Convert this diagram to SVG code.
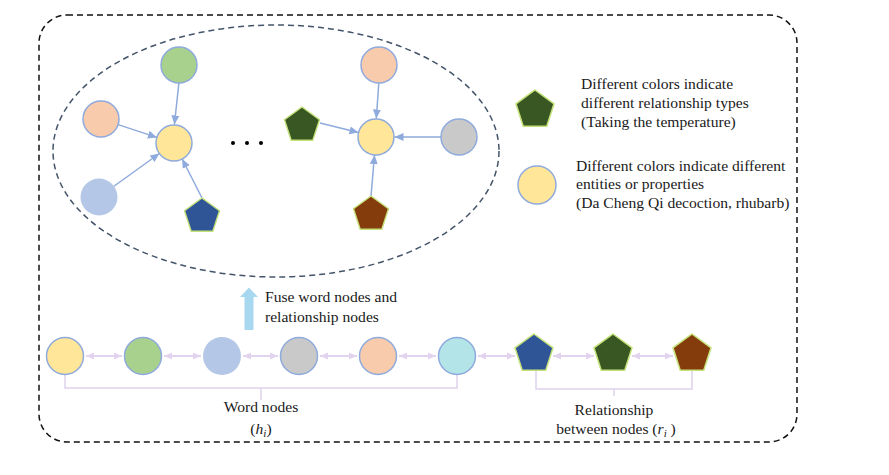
<svg xmlns="http://www.w3.org/2000/svg" xmlns:xlink="http://www.w3.org/1999/xlink" width="889" height="475" viewBox="0 0 889 475">
<style>
  text { font-family: "Liberation Serif", "Times New Roman", serif; font-size: 15.6px; fill: #1a1a1a; }
  .mid { text-anchor: middle; }
  .node { stroke: #8faadc; stroke-width: 1.5; }
  .pent { stroke: #c5e17a; stroke-width: 1.5; }
  .edge { stroke: #8faadc; stroke-width: 1.5; fill: none; marker-end: url(#ah); }
  .bi { stroke: #e2d4ef; stroke-width: 2; fill: none; marker-start: url(#bs); marker-end: url(#be); }
  .brk { stroke: #e0d2ed; stroke-width: 1.5; fill: none; }
</style>
<defs>
  <polygon id="pg" points="0,-20 19.02,-6.18 11.76,16.18 -11.76,16.18 -19.02,-6.18"/>
  <marker id="ah" markerUnits="userSpaceOnUse" markerWidth="10" markerHeight="10" viewBox="0 0 10 10" refX="9" refY="5" orient="auto">
    <path d="M0,1 L9,5 L0,9 Z" fill="#8faadc"/>
  </marker>
  <marker id="be" markerUnits="userSpaceOnUse" markerWidth="9" markerHeight="9" viewBox="0 0 10 10" refX="9" refY="5" orient="auto">
    <path d="M0,1 L9,5 L0,9 Z" fill="#e2d4ef"/>
  </marker>
  <marker id="bs" markerUnits="userSpaceOnUse" markerWidth="9" markerHeight="9" viewBox="0 0 10 10" refX="1" refY="5" orient="auto">
    <path d="M10,1 L1,5 L10,9 Z" fill="#e2d4ef"/>
  </marker>
</defs>

<rect x="39" y="15" width="758" height="427" rx="28" ry="28" fill="none" stroke="#111" stroke-width="1.5" stroke-dasharray="6,4"/>
<ellipse cx="276" cy="151" rx="223" ry="126" fill="none" stroke="#44546a" stroke-width="1.5" stroke-dasharray="6,4"/>

<g id="connectors">
  <line class="edge" x1="178.9" y1="83" x2="174.4" y2="124.5"/>
  <line class="edge" x1="118.1" y1="124.6" x2="156.9" y2="137.4"/>
  <line class="edge" x1="113.6" y1="186.5" x2="159.4" y2="153.5"/>
  <line class="edge" x1="202" y1="198" x2="182.2" y2="159"/>
  <line class="edge" x1="378.8" y1="83" x2="376.3" y2="118.5"/>
  <line class="edge" x1="441" y1="137" x2="394.5" y2="137"/>
  <line class="edge" x1="320" y1="123" x2="358.5" y2="132.6"/>
  <line class="edge" x1="371" y1="196" x2="374.5" y2="155"/>

  <line class="bi" x1="86" y1="356" x2="122" y2="356"/>
  <line class="bi" x1="164" y1="356" x2="201" y2="356"/>
  <line class="bi" x1="243" y1="356" x2="278" y2="356"/>
  <line class="bi" x1="320" y1="356" x2="357" y2="356"/>
  <line class="bi" x1="399" y1="356" x2="436" y2="356"/>
  <line class="bi" x1="478" y1="356" x2="515" y2="356"/>
  <line class="bi" x1="553" y1="356" x2="594" y2="356"/>
  <line class="bi" x1="632" y1="356" x2="673" y2="356"/>

  <path class="brk" d="M65,374.5 V388 H457 V374.5 M261,388 V400"/>
  <path class="brk" d="M536,370 V389 H692 V370 M614,389 V396"/>

  <path d="M244.5,330 V297 H240 L249,287.5 L258,297 H253.5 V330 Z" fill="#a8d8ef"/>
</g>

<g id="cluster-left">
  <circle id="n-c1" class="node" cx="174" cy="143" r="18" fill="#ffe699"/>
  <circle id="n-g1" class="node" cx="179" cy="65" r="18" fill="#a9d18e"/>
  <circle id="n-p1" class="node" cx="101" cy="119" r="18" fill="#f8cbad"/>
  <circle id="n-b1" cx="99" cy="197" r="18.5" fill="#b4c7e7"/>
  <use id="n-r1" xlink:href="#pg" class="pent" fill="#2f5597" transform="translate(202,216.4) scale(0.92)"/>
</g>
<g id="dots">
  <circle cx="233" cy="143" r="2" fill="#000"/>
  <circle cx="247" cy="143" r="2" fill="#000"/>
  <circle cx="261" cy="143" r="2" fill="#000"/>
</g>
<g id="cluster-right">
  <circle id="n-c2" class="node" cx="376" cy="137" r="18" fill="#ffe699"/>
  <circle id="n-p2" class="node" cx="379" cy="65" r="18" fill="#f8cbad"/>
  <circle id="n-s2" class="node" cx="459" cy="137" r="18" fill="#c9c9c9"/>
  <use id="n-r2" xlink:href="#pg" class="pent" fill="#385723" transform="translate(302,125.4) scale(0.92)"/>
  <use id="n-r3" xlink:href="#pg" class="pent" fill="#843c0c" transform="translate(371,214.4) scale(0.92)"/>
</g>

<g id="legend">
  <use xlink:href="#pg" class="pent" fill="#385723" transform="translate(535,110)"/>
  <text x="581" y="89">Different colors indicate</text>
  <text x="581" y="108">different relationship types</text>
  <text x="581" y="127">(Taking the temperature)</text>
  <circle class="node" cx="537" cy="185" r="19" fill="#ffe699"/>
  <text x="576" y="171">Different colors indicate different</text>
  <text x="576" y="189">entities or properties</text>
  <text x="576" y="208">(Da Cheng Qi decoction, rhubarb)</text>
</g>

<g id="fuse-label">
  <text x="265" y="302">Fuse word nodes and</text>
  <text x="265" y="322">relationship nodes</text>
</g>

<g id="word-nodes">
  <circle id="w1" class="node" cx="65" cy="356" r="18.5" fill="#ffe699"/>
  <circle id="w2" class="node" cx="143" cy="356" r="18.5" fill="#a9d18e"/>
  <circle id="w3" cx="222" cy="356" r="19" fill="#b4c7e7"/>
  <circle id="w4" class="node" cx="299" cy="356" r="18.5" fill="#c9c9c9"/>
  <circle id="w5" class="node" cx="378" cy="356" r="18.5" fill="#f8cbad"/>
  <circle id="w6" class="node" cx="457" cy="356" r="18.5" fill="#b3e4e8"/>
</g>
<g id="relation-nodes">
  <use id="r1" xlink:href="#pg" class="pent" fill="#2f5597" transform="translate(534,354)"/>
  <use id="r2" xlink:href="#pg" class="pent" fill="#385723" transform="translate(613,354)"/>
  <use id="r3" xlink:href="#pg" class="pent" fill="#843c0c" transform="translate(692,354)"/>
</g>

<g id="labels">
  <text class="mid" x="261" y="412">Word nodes</text>
  <text class="mid" x="261" y="434">(<tspan font-style="italic">h</tspan><tspan font-style="italic" font-size="11" dy="3">i</tspan><tspan dy="-3">)</tspan></text>
  <text class="mid" x="614" y="415">Relationship</text>
  <text class="mid" x="616" y="434">between nodes (<tspan font-style="italic">r</tspan><tspan font-style="italic" font-size="11" dy="3">i</tspan><tspan dy="-3"> )</tspan></text>
</g>
</svg>
